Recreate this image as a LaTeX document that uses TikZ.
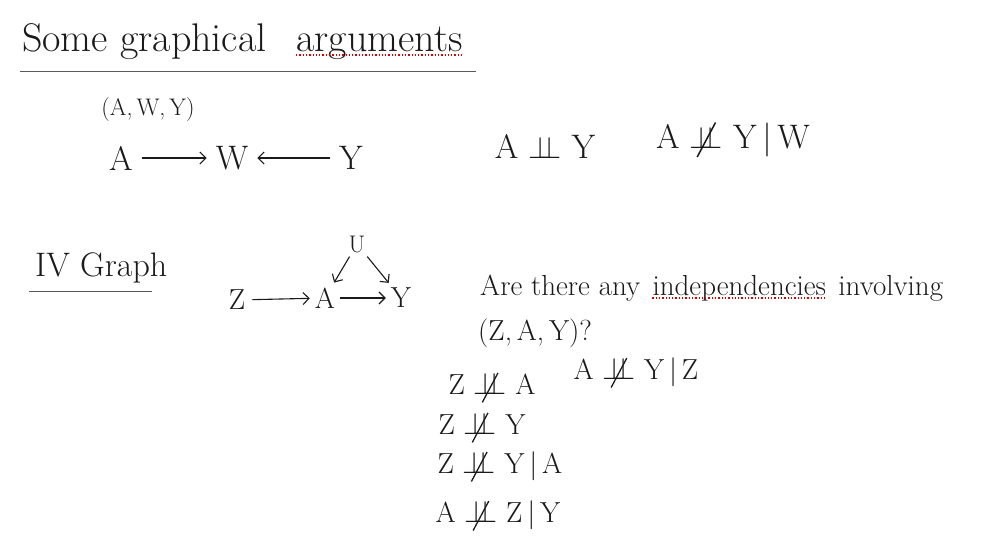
\documentclass[tikz,border=0pt]{standalone}
\usepackage{amsmath, amssymb}
\usetikzlibrary{arrows.meta, positioning}
\definecolor{inkblack}{HTML}{1A1A1A}
\definecolor{rulegray}{HTML}{5A5A5A}
\newcommand{\indepsym}{\scalebox{1.25}{$\perp\!\!\!\perp$}}
\newcommand{\indep}{\mathrel{\text{\indepsym}}}
\newcommand{\nindep}{\mathrel{\text{\ooalign{\indepsym\cr\hidewidth\raisebox{-0.25em}{\rotatebox{-28}{\rule{0.045em}{1.15em}}}\hidewidth\cr}}}}

\begin{document}
\begin{tikzpicture}[x=1pt, y=-1pt,
      hand/.style={inner sep=0pt, text=inkblack, font=\fontsize{29}{33}\selectfont},
      big/.style={hand, font=\fontsize{40}{44}\selectfont},
      mid/.style={hand, font=\fontsize{34}{38}\selectfont},
      small/.style={hand, font=\fontsize{24}{28}\selectfont},
      gnode/.style={mid, inner sep=9pt},
      ar/.style={-{Straight Barb[length=6pt,width=12pt]}, inkblack, line width=1.1pt},
      rl/.style={rulegray, line width=0.9pt},
      spell/.style={red!85!black, dotted, line width=1.3pt},
    ]
    \useasboundingbox (0,0) rectangle (989,543);

    % heading
    \node[big, anchor=base west] (some) at (22,52) {Some graphical};
    \node[big, anchor=base west] (args) at (296,52) {arguments};
    \draw[rl] (20,71) -- (476,71);
    \draw[spell] ([yshift=-3pt]args.base west) -- ([yshift=-3pt]args.base east);

    % collider
    \node[small] (triple) at (148,110) {(A,\,W,\,Y)};
    \node[gnode] (a1) at (121,158) {A};
    \node[gnode] (w1) at (232,158) {W};
    \node[gnode] (y1) at (351,158) {Y};
    \draw[ar] (a1) -- (w1);
    \draw[ar] (y1) -- (w1);

    \node[mid] (ind1)  at (545,146) {A $\indep$ Y};
    \node[mid] (nind1) at (733,140) {A $\nindep$ Y\,|\,W};

    % IV graph
    \node[mid, anchor=base west] (iv) at (35,276) {IV Graph};
    \draw[rl] (29,291) -- (152,291);

    \node[hand, inner sep=7pt] (z2) at (237,300) {Z};
    \node[hand, inner sep=5pt] (a2) at (325,298) {A};
    \node[hand, inner sep=5pt] (y2) at (401,298) {Y};
    \node[small, inner sep=4pt] (u2) at (357,244) {U};
    \draw[ar] (z2) -- (a2);
    \draw[ar] (a2) -- (y2);
    \draw[ar] (u2) -- (a2);
    \draw[ar] (u2) -- (y2);

    % question
    \node[hand, anchor=base west] (q1) at (480,295) {Are there any};
    \node[hand, base right=12pt of q1] (indeps) {independencies};
    \node[hand, base right=12pt of indeps] (invol) {involving};
    \draw[spell] ([yshift=-3pt]indeps.base west) -- ([yshift=-3pt]indeps.base east);
    \node[hand, anchor=base west] (q2) at (478,340) {(Z,\,A,\,Y)?};

    % answers
    \node[hand] (r1) at (492,388) {Z $\nindep$ A};
    \node[hand] (r2) at (636,373) {A $\nindep$ Y\,|\,Z};
    \node[hand] (r3) at (482,428) {Z $\nindep$ Y};
    \node[hand] (r4) at (500,467) {Z $\nindep$ Y\,|\,A};
    \node[hand] (r5) at (498,516) {A $\nindep$ Z\,|\,Y};
  \end{tikzpicture}
\end{document}
